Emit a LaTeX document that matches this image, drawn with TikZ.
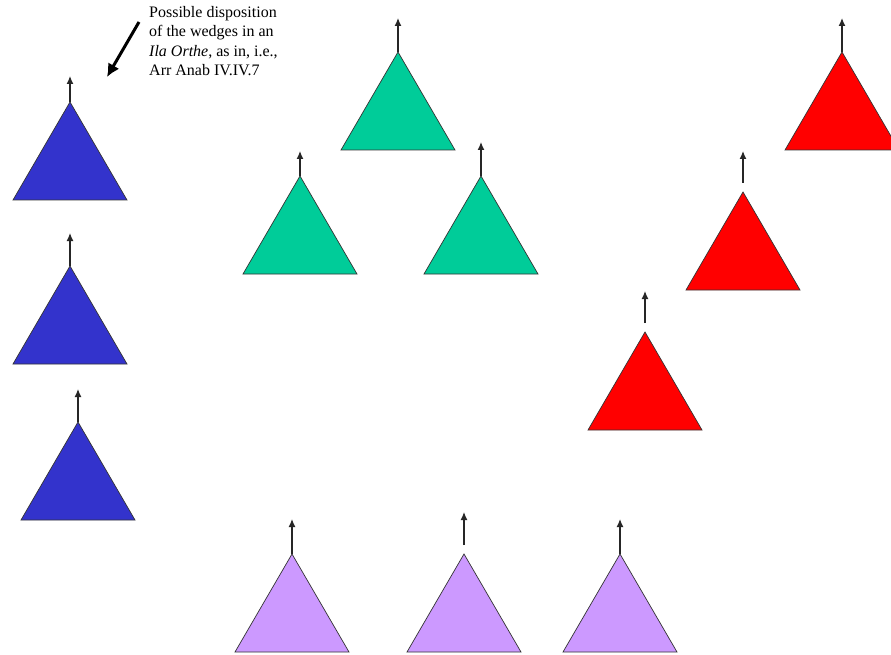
\documentclass[tikz,border=0pt]{standalone}
\usepackage{fontspec}
\setmainfont{Liberation Serif}
\usetikzlibrary{arrows.meta}
\definecolor{wblue}{RGB}{51,51,204}
\definecolor{wgreen}{RGB}{0,204,153}
\definecolor{wred}{RGB}{255,0,0}
\definecolor{wlilac}{RGB}{204,153,255}
\tikzset{
  wedge/.style={draw=black!80, line width=0.7pt, line join=miter},
  upar/.style={draw=black!85, line width=1.3pt, -{Latex[length=8pt,width=7pt]}},
  callout/.style={draw=black, line width=3pt, -{Latex[length=13pt,width=13pt]}},
}
\newcommand{\wedgeat}[4]{% name, x, y(apex), color
  \coordinate (#1) at (#2,#3);
  \fill[#4] (#1) -- ++(-57,98) -- ++(114,0) -- cycle;
  \draw[wedge] (#1) -- ++(-57,98) -- ++(114,0) -- cycle;
}
\begin{document}
\begin{tikzpicture}[x=1pt,y=-1pt]
\clip (0,0) rectangle (891,655);
\fill[white] (0,0) rectangle (891,655);
% blue
\wedgeat{b1}{70}{102}{wblue}
\wedgeat{b2}{70}{266}{wblue}
\wedgeat{b3}{78}{422}{wblue}
% green
\wedgeat{g1}{398}{52}{wgreen}
\wedgeat{g2}{300}{176}{wgreen}
\wedgeat{g3}{481}{176}{wgreen}
% red
\wedgeat{r1}{842}{52}{wred}
\wedgeat{r2}{743}{192}{wred}
\wedgeat{r3}{645}{332}{wred}
% lilac
\wedgeat{l1}{292}{554}{wlilac}
\wedgeat{l2}{464}{554}{wlilac}
\wedgeat{l3}{620}{554}{wlilac}
% arrows on the wedges
\coordinate (tb1) at (70,76);
\coordinate (tb2) at (70,233);
\coordinate (tb3) at (78,389);
\coordinate (tg1) at (398,18);
\coordinate (tg2) at (300,151);
\coordinate (tg3) at (481,142);
\coordinate (tr1) at (842,18);
\coordinate (tr2) at (743,151);
\coordinate (tr3) at (645,291);
\coordinate (tl1) at (292,519);
\coordinate (tl2) at (464,512);
\coordinate (tl3) at (620,519);
\draw[upar] (b1) -- (tb1);
\draw[upar] (b2) -- (tb2);
\draw[upar] (b3) -- (tb3);
\draw[upar] (g1) -- (tg1);
\draw[upar] (g2) -- (tg2);
\draw[upar] (g3) -- (tg3);
\draw[upar] (r1) -- (tr1);
\draw[upar] ([yshift=9pt]r2) -- (tr2);
\draw[upar] ([yshift=9pt]r3) -- (tr3);
\draw[upar] (l1) -- (tl1);
\draw[upar] ([yshift=9pt]l2) -- (tl2);
\draw[upar] (l3) -- (tl3);
% label
\node[anchor=north west, inner sep=0pt, align=left, font=\fontsize{16}{19.5}\selectfont]
  (lab) at (149,6) {Possible disposition\\of the wedges in an\\\textit{Ila Orthe}, as in, i.e.,\\Arr Anab IV.IV.7};
\coordinate (cs) at (139,22);
\coordinate (ce) at (107,77);
\draw[callout] (cs) -- (ce);
\end{tikzpicture}
\end{document}
